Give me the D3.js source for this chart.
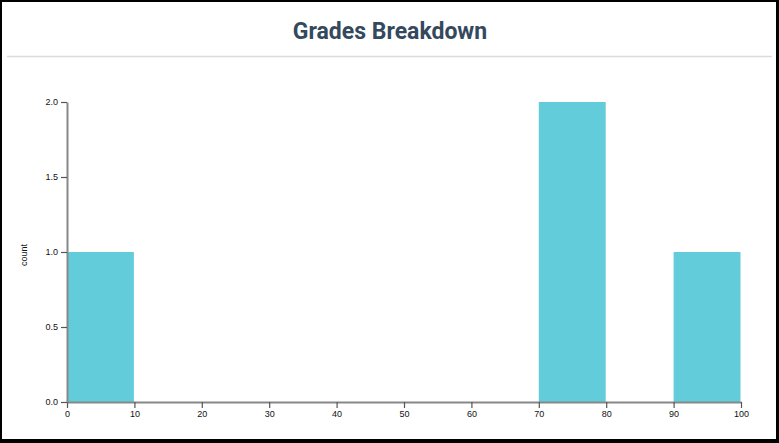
<!DOCTYPE html>
<html>
<head>
<meta charset="utf-8">
<script src="https://cdn.jsdelivr.net/npm/d3@7"></script>
<style>
html,body{margin:0;padding:0;background:#fff;}
#frame{position:absolute;left:0;top:0;width:779px;height:443px;box-sizing:border-box;border-style:solid;border-color:#000;border-width:2px 3px 4px 2px;background:#fff;}
svg{position:absolute;left:0;top:0;}
</style>
</head>
<body>
<div id="frame"></div>
<svg id="chart" width="779" height="443"></svg>
<script>
const binStarts = [0,10,20,30,40,50,60,70,80,90];
const binEnds   = [10,20,30,40,50,60,70,80,90,100];
const counts    = [1,0,0,0,0,0,0,2,0,1];
const xTicks = [0,10,20,30,40,50,60,70,80,90,100];
const yTicks = [0,0.5,1,1.5,2];
const title = "Grades Breakdown";
const yLabel = "count";

const svg = d3.select("#chart");
svg.append("text").attr("x",390).attr("y",39).attr("text-anchor","middle")
  .style("font-family","Roboto").style("font-weight","700").style("font-size","23px")
  .attr("fill","#34495e").text(title);
svg.append("line").attr("x1",7).attr("x2",772).attr("y1",56.5).attr("y2",56.5)
  .attr("stroke","#dcdcdc").attr("stroke-width",1.5);

const x = d3.scaleLinear().domain([0,100]).range([67,741]);
const y = d3.scaleLinear().domain([0,2]).range([402,102]);

const data = binStarts.map((s,i)=>({x0:s,x1:binEnds[i],c:counts[i]}));
svg.append("g").selectAll("rect").data(data.filter(d=>d.c>0)).join("rect")
  .attr("x",d=>x(d.x0)).attr("width",d=>x(d.x1)-x(d.x0)-0.5)
  .attr("y",d=>y(d.c)).attr("height",d=>y(0)-y(d.c))
  .attr("fill","#63ccdb");

const fontAx = "Liberation Sans, Arial, sans-serif";
const gx = svg.append("g").attr("transform",`translate(0,${y(0)})`)
  .call(d3.axisBottom(x).tickValues(xTicks).tickSize(6).tickSizeOuter(0).tickFormat(d3.format("d")));
const gy = svg.append("g").attr("transform",`translate(${x(0)},0)`)
  .call(d3.axisLeft(y).tickValues(yTicks).tickSize(6).tickSizeOuter(0).tickFormat(d3.format(".1f")));
[gx,gy].forEach(g=>{
  g.select(".domain").attr("stroke","#888").attr("stroke-width",2);
  g.selectAll(".tick line").attr("stroke","#555").attr("stroke-width",1.2);
  g.selectAll(".tick text").style("font-family",fontAx).style("font-size","9px").attr("fill","#111");
});
svg.append("text").attr("transform","translate(27,255) rotate(-90)").attr("text-anchor","middle")
  .style("font-family",fontAx).style("font-size","9px").attr("fill","#111").text(yLabel);
</script>
</body>
</html>
